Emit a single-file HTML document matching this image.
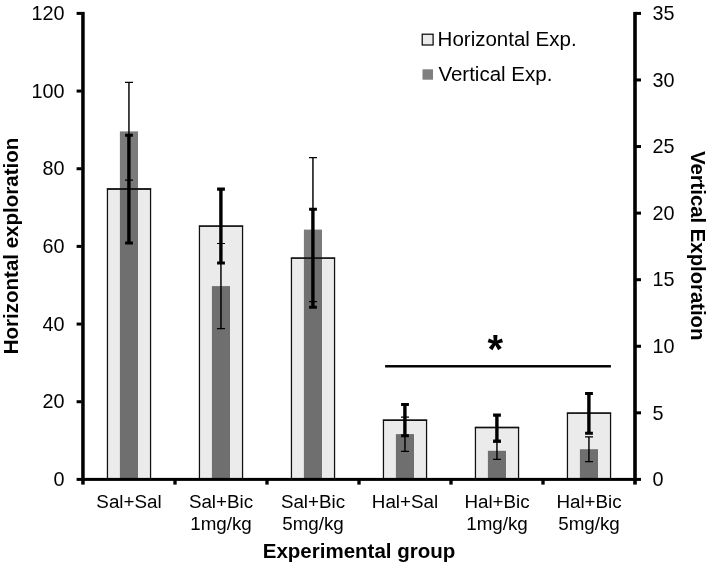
<!DOCTYPE html>
<html lang="en"><head><meta charset="utf-8"><title>Exploration chart</title>
<style>
html,body{margin:0;padding:0;background:#fff;}
body{width:709px;height:566px;overflow:hidden;}
svg{display:block;will-change:transform;}
text{font-family:"Liberation Sans",Arial,Helvetica,sans-serif;fill:#000;}
.b{font-weight:bold;}
</style></head><body>
<svg width="709" height="566" viewBox="0 0 709 566">
<rect x="0" y="0" width="709" height="566" fill="#fff"/>
<g id="bars">
<rect x="106.9" y="189" width="44.2" height="290" fill="#ebebeb"/>
<rect x="119.9" y="131.4" width="18.1" height="57.6" fill="#7b7b7b"/>
<rect x="119.9" y="189" width="18.1" height="290" fill="#6f6f6f"/>
<rect x="107.45" y="189" width="43.1" height="290" fill="none" stroke="#111" stroke-width="1.25"/>
<path d="M106.85 189H151.15" fill="none" stroke="#111" stroke-width="1.45"/>
<rect x="198.9" y="226.1" width="44.2" height="252.9" fill="#ebebeb"/>
<rect x="211.9" y="286.1" width="18.1" height="192.9" fill="#6f6f6f"/>
<rect x="199.45" y="226.1" width="43.1" height="252.9" fill="none" stroke="#111" stroke-width="1.25"/>
<path d="M198.85 226.1H243.15" fill="none" stroke="#111" stroke-width="1.45"/>
<rect x="290.9" y="258.1" width="44.2" height="220.9" fill="#ebebeb"/>
<rect x="303.9" y="229.6" width="18.1" height="28.5" fill="#7b7b7b"/>
<rect x="303.9" y="258.1" width="18.1" height="220.9" fill="#6f6f6f"/>
<rect x="291.45" y="258.1" width="43.1" height="220.9" fill="none" stroke="#111" stroke-width="1.25"/>
<path d="M290.85 258.1H335.15" fill="none" stroke="#111" stroke-width="1.45"/>
<rect x="382.9" y="420.2" width="44.2" height="58.8" fill="#ebebeb"/>
<rect x="395.9" y="434.1" width="18.1" height="44.9" fill="#6f6f6f"/>
<rect x="383.45" y="420.2" width="43.1" height="58.8" fill="none" stroke="#111" stroke-width="1.25"/>
<path d="M382.85 420.2H427.15" fill="none" stroke="#111" stroke-width="1.45"/>
<rect x="474.9" y="427.5" width="44.2" height="51.5" fill="#ebebeb"/>
<rect x="487.9" y="450.8" width="18.1" height="28.2" fill="#6f6f6f"/>
<rect x="475.45" y="427.5" width="43.1" height="51.5" fill="none" stroke="#111" stroke-width="1.25"/>
<path d="M474.85 427.5H519.15" fill="none" stroke="#111" stroke-width="1.45"/>
<rect x="566.9" y="413.1" width="44.2" height="65.9" fill="#ebebeb"/>
<rect x="579.9" y="449.2" width="18.1" height="29.8" fill="#6f6f6f"/>
<rect x="567.45" y="413.1" width="43.1" height="65.9" fill="none" stroke="#111" stroke-width="1.25"/>
<path d="M566.85 413.1H611.15" fill="none" stroke="#111" stroke-width="1.45"/>
</g>
<g id="errs" stroke="#000" fill="none">
<path d="M128.95 82.3V180.2" stroke-width="1.45" stroke="#000"/>
<path d="M125 82.3H133M125 180.2H133" stroke-width="1.2" stroke="#000"/>
<path d="M220.95 243.5V328.7" stroke-width="1.45" stroke="#000"/>
<path d="M217 243.5H225M217 328.7H225" stroke-width="1.2" stroke="#000"/>
<path d="M312.95 157.6V301.6" stroke-width="1.45" stroke="#000"/>
<path d="M309 157.6H317M309 301.6H317" stroke-width="1.2" stroke="#000"/>
<path d="M404.95 417.2V451.3" stroke-width="1.45" stroke="#000"/>
<path d="M401 417.2H409M401 451.3H409" stroke-width="1.2" stroke="#000"/>
<path d="M496.95 442.2V459.4" stroke-width="1.45" stroke="#000"/>
<path d="M493 442.2H501M493 459.4H501" stroke-width="1.2" stroke="#000"/>
<path d="M588.95 436.9V461.6" stroke-width="1.45" stroke="#000"/>
<path d="M585 436.9H593M585 461.6H593" stroke-width="1.2" stroke="#000"/>
<path d="M128.9 135.3V243" stroke-width="3.4"/>
<path d="M125.1 135.3H132.9M125.1 243H132.9" stroke-width="3.1"/>
<path d="M220.9 189.1V263" stroke-width="3.4"/>
<path d="M217.1 189.1H224.9M217.1 263H224.9" stroke-width="3.1"/>
<path d="M312.9 209.3V307.3" stroke-width="3.4"/>
<path d="M309.1 209.3H316.9M309.1 307.3H316.9" stroke-width="3.1"/>
<path d="M404.9 404.5V435.8" stroke-width="3.4"/>
<path d="M401.1 404.5H408.9M401.1 435.8H408.9" stroke-width="3.1"/>
<path d="M496.9 415.1V441" stroke-width="3.4"/>
<path d="M493.1 415.1H500.9M493.1 441H500.9" stroke-width="3.1"/>
<path d="M588.9 393.5V433.2" stroke-width="3.4"/>
<path d="M585.1 393.5H592.9M585.1 433.2H592.9" stroke-width="3.1"/>
</g>
<g id="axes" fill="#000">
<rect x="81.2" y="11.9" width="3.5" height="472.7"/>
<rect x="633.2" y="11.9" width="3.6" height="472.7"/>
<rect x="81.2" y="477.9" width="555.6" height="3"/>
<rect x="76.6" y="477.9" width="5" height="3"/>
<rect x="76.6" y="400.23" width="5" height="3"/>
<rect x="76.6" y="322.57" width="5" height="3"/>
<rect x="76.6" y="244.9" width="5" height="3"/>
<rect x="76.6" y="167.23" width="5" height="3"/>
<rect x="76.6" y="89.57" width="5" height="3"/>
<rect x="76.6" y="11.9" width="5" height="3"/>
<rect x="636" y="477.9" width="5" height="3"/>
<rect x="636" y="411.33" width="5" height="3"/>
<rect x="636" y="344.76" width="5" height="3"/>
<rect x="636" y="278.19" width="5" height="3"/>
<rect x="636" y="211.61" width="5" height="3"/>
<rect x="636" y="145.04" width="5" height="3"/>
<rect x="636" y="78.47" width="5" height="3"/>
<rect x="636" y="11.9" width="5" height="3"/>
<rect x="173.35" y="480" width="3.3" height="4.6"/>
<rect x="265.35" y="480" width="3.3" height="4.6"/>
<rect x="357.35" y="480" width="3.3" height="4.6"/>
<rect x="449.35" y="480" width="3.3" height="4.6"/>
<rect x="541.35" y="480" width="3.3" height="4.6"/>
</g>
<g id="ylab" font-size="19.8" text-anchor="end">
<text x="64.5" y="486.1">0</text>
<text x="64.5" y="408.43">20</text>
<text x="64.5" y="330.77">40</text>
<text x="64.5" y="253.1">60</text>
<text x="64.5" y="175.43">80</text>
<text x="64.5" y="97.77">100</text>
<text x="64.5" y="20.1">120</text>
</g>
<g id="y2lab" font-size="19.8" text-anchor="start">
<text x="652.4" y="486.1">0</text>
<text x="652.4" y="419.53">5</text>
<text x="652.4" y="352.96">10</text>
<text x="652.4" y="286.39">15</text>
<text x="652.4" y="219.81">20</text>
<text x="652.4" y="153.24">25</text>
<text x="652.4" y="86.67">30</text>
<text x="652.4" y="20.1">35</text>
</g>
<g id="xlab" font-size="18.8" text-anchor="middle">
<text x="129" y="508">Sal+Sal</text>
<text x="221" y="508">Sal+Bic</text>
<text x="221" y="529.6">1mg/kg</text>
<text x="313" y="508">Sal+Bic</text>
<text x="313" y="529.6">5mg/kg</text>
<text x="405" y="508">Hal+Sal</text>
<text x="497" y="508">Hal+Bic</text>
<text x="497" y="529.6">1mg/kg</text>
<text x="589" y="508">Hal+Bic</text>
<text x="589" y="529.6">5mg/kg</text>
</g>
<text class="b" font-size="20.5" text-anchor="middle" x="359" y="558.2">Experimental group</text>
<text class="b" font-size="20.5" text-anchor="middle" transform="translate(17.8 246) rotate(-90)">Horizontal exploration</text>
<text class="b" font-size="20.3" text-anchor="middle" transform="translate(690.5 245.7) rotate(90)">Vertical Exploration</text>
<g id="legend">
<rect x="422.2" y="34.2" width="10.9" height="10.8" fill="#ebebeb" stroke="#000" stroke-width="1.2"/>
<text font-size="20.5" x="437.6" y="46.2">Horizontal Exp.</text>
<rect x="422.5" y="69.3" width="10.5" height="10.4" fill="#7f7f7f"/>
<text font-size="20.5" x="438.4" y="80.8">Vertical Exp.</text>
</g>
<rect x="385.1" y="365.05" width="225.8" height="2.45" fill="#000"/>
<text class="b" font-size="40" text-anchor="middle" x="495.4" y="363.2">*</text>
</svg>
</body></html>
